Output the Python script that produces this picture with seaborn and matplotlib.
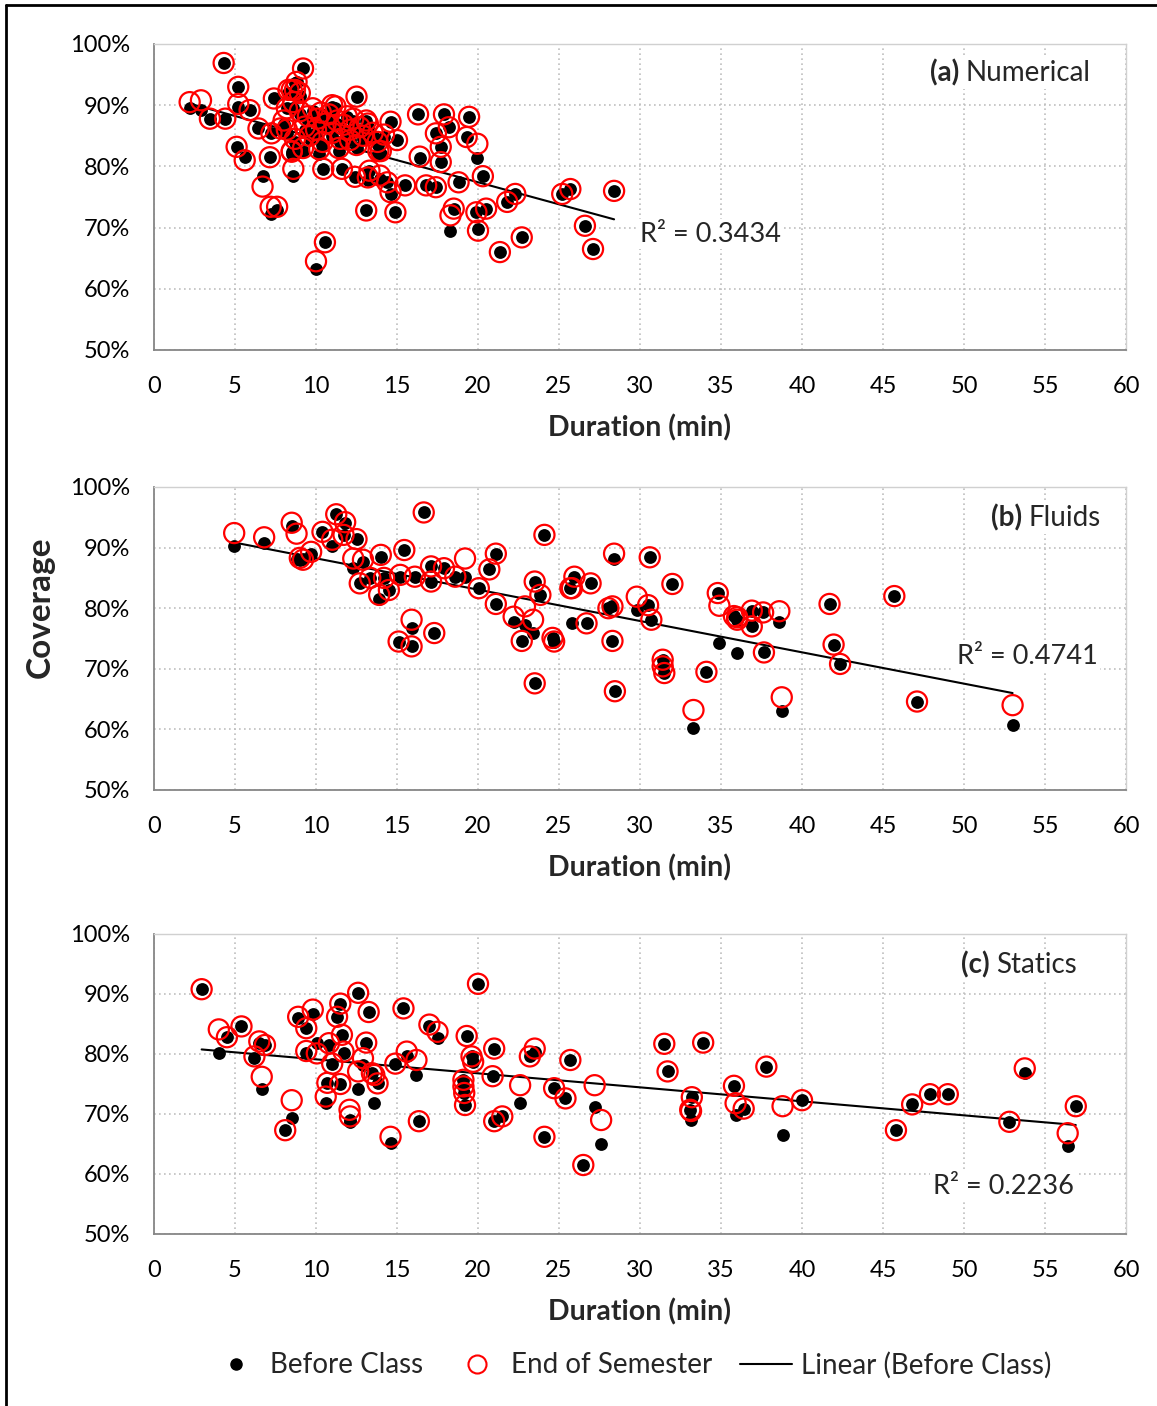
import numpy as np
import pandas as pd
import matplotlib
matplotlib.use("Agg")
import matplotlib.pyplot as plt
import seaborn as sns
from matplotlib.lines import Line2D

# ---------------- data (Duration in min, Coverage in %) ----------------
num_dur = [2.2, 2.9, 3.45, 4.3, 4.4, 5.2, 5.2, 5.9, 5.1, 5.6, 6.45, 6.7, 7.15, 7.25, 7.4,
           7.2, 7.6, 8.2, 8.5, 8.6, 7.8, 8.8, 9.2, 8.7, 8.3, 10.0, 10.55, 10.45, 11.6, 12.5,
           13.1, 14.6, 15.0, 13.85, 12.4, 13.2, 13.95, 14.4, 14.6, 15.5, 13.1, 14.9, 16.3,
           17.9, 19.45, 18.2, 17.4, 17.7, 19.3, 19.96, 20.3, 16.4, 17.7, 16.8, 17.4, 18.8,
           18.5, 18.3, 19.9, 20.5, 20.0, 21.8, 22.3, 21.35, 22.7, 25.2, 25.7, 26.6, 27.1, 28.4,
           9.0, 9.3, 9.5, 9.6, 9.8, 10.0, 10.1, 10.3, 10.4, 10.6, 10.8, 11.0, 11.2, 11.3, 11.5,
           11.7, 11.9, 12.1, 12.3, 12.5, 12.7, 12.9, 13.2, 13.5, 13.8, 9.2, 10.2, 11.4, 8.7,
           8.5, 8.2, 8.0, 8.6, 9.0, 8.5, 11.0, 14.2, 14.0, 13.3, 12.1]
num_before = [89.5, 89.2, 87.8, 96.9, 87.8, 93.0, 89.7, 89.2, 83.2, 81.5, 86.2, 78.5, 81.5, 85.4, 91.1,
              72.2, 72.8, 89.5, 82.4, 78.5, 85.9, 93.8, 96.0, 93.6, 92.0, 63.2, 67.6, 79.6, 79.6, 91.4,
              87.5, 87.3, 84.3, 82.1, 78.3, 77.7, 78.0, 77.4, 75.5, 76.9, 72.8, 72.5, 88.5,
              88.5, 88.1, 86.4, 85.4, 83.2, 84.8, 81.3, 78.4, 81.3, 80.7, 76.9, 76.6, 77.4,
              73.1, 69.5, 72.5, 73.1, 69.8, 74.2, 75.5, 66.0, 68.4, 75.5, 76.3, 70.3, 66.5, 76.0,
              88.5, 86.0, 87.5, 84.5, 89.0, 85.5, 87.0, 88.5, 83.5, 86.5, 88.0, 85.0, 89.5, 87.0, 84.0,
              86.0, 88.0, 85.5, 87.5, 83.0, 86.0, 84.5, 86.5, 85.0, 83.5, 82.5, 82.0, 82.5, 84.0,
              82.0, 85.5, 87.0, 89.5, 91.5, 92.0, 89.7, 84.8, 82.0, 79.3, 84.3]
num_end = [90.5, 90.8, 87.8, 96.9, 87.8, 93.0, 90.2, 89.2, 83.2, 81.0, 86.2, 76.7, 81.5, 85.4, 91.1,
           73.4, 73.4, 89.5, 82.4, 79.6, 86.2, 93.8, 96.0, 92.5, 92.5, 64.5, 67.6, 79.6, 79.6, 91.4,
           87.5, 87.3, 84.3, 82.5, 78.3, 78.2, 78.5, 77.4, 75.8, 76.9, 72.8, 72.5, 88.5,
           88.5, 88.1, 86.4, 85.4, 83.2, 84.8, 83.7, 78.4, 81.6, 80.7, 76.9, 76.6, 77.4,
           73.1, 72.0, 72.5, 73.1, 69.5, 74.2, 75.5, 66.0, 68.4, 75.5, 76.3, 70.3, 66.5, 76.0,
           89.0, 86.5, 88.2, 85.0, 89.5, 86.0, 87.8, 88.8, 84.0, 87.0, 88.5, 85.5, 89.8, 87.5, 84.5,
           86.8, 88.2, 86.0, 87.8, 83.5, 86.4, 85.0, 87.0, 85.5, 84.0, 83.0, 82.8, 83.0, 84.5,
           82.5, 86.0, 87.5, 90.5, 92.0, 92.5, 90.0, 85.2, 82.5, 79.3, 84.3]

flu_dur = [4.95, 6.8, 8.5, 8.8, 9.0, 9.2, 9.7, 10.4, 11.0, 11.25, 11.8, 11.7, 12.5, 12.3, 12.9,
           12.7, 13.35, 14.0, 13.9, 14.5, 14.2, 15.45, 15.2, 15.9, 15.1, 15.9, 16.1, 16.65, 17.1,
           17.1, 17.3, 17.9, 18.6, 19.2, 20.05, 20.7, 21.1, 21.1, 24.1, 22.2, 22.9, 23.4, 23.5,
           23.85, 22.7, 23.5, 24.6, 24.7, 25.7, 25.95, 25.8, 26.7, 26.95, 28.4, 28.05, 28.3, 28.3,
           28.45, 29.8, 30.6, 30.5, 30.7, 31.4, 31.4, 31.5, 32.0, 33.3, 34.1, 34.8, 34.9, 35.8,
           36.0, 36.0, 36.9, 36.9, 37.6, 37.65, 38.6, 38.75, 41.7, 41.95, 42.35, 45.7, 47.1, 53.0]
flu_before = [90.3, 90.8, 93.5, 88.2, 88.0, 88.1, 89.0, 92.6, 90.2, 95.5, 94.0, 92.1, 91.4, 86.6, 87.7,
              84.1, 85.0, 88.5, 81.6, 83.0, 85.0, 89.6, 85.2, 76.7, 74.5, 73.7, 85.2, 95.8, 86.9,
              84.4, 75.9, 86.6, 85.2, 85.2, 83.3, 86.4, 89.0, 80.7, 92.1, 77.8, 77.3, 75.9, 84.4,
              82.2, 74.6, 67.6, 75.1, 74.5, 83.3, 85.2, 77.5, 77.5, 84.1, 88.2, 80.0, 80.3, 74.6,
              66.3, 79.7, 88.4, 80.5, 78.1, 71.5, 70.4, 69.3, 84.0, 60.2, 69.5, 82.5, 74.2, 78.7,
              78.1, 72.6, 79.6, 77.0, 79.3, 72.7, 77.8, 63.0, 80.7, 74.0, 70.8, 82.0, 64.6, 60.8]
flu_end = [92.4, 91.7, 94.1, 92.3, 88.3, 88.0, 89.3, 92.6, 91.3, 95.5, 94.2, 92.1, 91.4, 88.2, 88.0,
           84.1, 85.0, 88.8, 82.2, 83.0, 85.0, 89.6, 85.5, 78.1, 74.5, 73.7, 85.2, 95.8, 86.9,
           84.4, 75.9, 86.6, 85.2, 88.2, 83.3, 86.4, 89.0, 80.7, 92.1, 78.6, 80.3, 78.1, 84.4,
           82.2, 74.6, 67.6, 75.1, 74.5, 83.3, 85.2, 83.3, 77.5, 84.1, 89.0, 80.0, 80.3, 74.6,
           66.3, 81.9, 88.4, 80.5, 78.1, 71.5, 70.4, 69.3, 84.0, 63.2, 69.5, 82.5, 80.4, 78.7,
           78.1, 78.5, 79.6, 77.0, 79.3, 72.7, 79.5, 65.3, 80.7, 74.0, 70.8, 82.0, 64.6, 64.0]

sta_dur = [2.94, 4.0, 4.5, 5.4, 6.2, 6.65, 6.5, 6.85, 8.1, 8.5, 8.9, 9.4, 9.8, 9.4, 10.05,
           10.6, 10.7, 11.3, 11.5, 11.6, 10.8, 11.0, 11.7, 11.5, 12.07, 12.1, 12.6, 12.6, 13.25,
           13.1, 12.9, 13.45, 13.8, 13.6, 14.6, 14.9, 15.6, 16.2, 15.4, 16.35, 17.0, 17.5, 19.3,
           19.1, 19.1, 19.15, 19.2, 19.6, 19.7, 20.0, 20.9, 21.0, 21.0, 21.5, 22.6, 23.5, 23.2,
           24.1, 24.7, 25.4, 25.7, 26.5, 27.2, 27.6, 31.5, 31.7, 33.2, 33.1, 33.15, 33.9, 35.8,
           35.9, 36.4, 37.8, 38.8, 40.0, 45.8, 46.8, 47.9, 49.0, 52.8, 53.75, 56.4, 56.9]
sta_before = [90.8, 80.1, 82.8, 84.6, 79.4, 74.1, 81.9, 81.5, 67.3, 69.4, 86.0, 84.3, 86.7, 80.2, 81.8,
              71.9, 75.2, 86.2, 88.4, 83.2, 81.5, 78.4, 80.1, 75.0, 68.7, 69.0, 90.2, 74.1, 87.0,
              81.9, 78.2, 76.8, 75.1, 71.8, 65.1, 78.4, 79.6, 76.5, 87.6, 68.8, 84.7, 82.6, 83.0,
              75.7, 74.6, 73.5, 71.5, 79.6, 78.7, 91.7, 76.3, 80.9, 68.8, 69.6, 71.8, 80.4, 79.6,
              66.2, 74.3, 72.6, 79.0, 61.5, 71.2, 65.0, 81.7, 77.1, 72.8, 70.7, 69.0, 81.9, 74.7,
              69.8, 70.9, 77.9, 66.5, 72.3, 67.3, 71.6, 73.3, 73.3, 68.7, 76.8, 64.7, 71.3]
sta_end = [90.8, 84.1, 82.8, 84.6, 79.6, 76.2, 82.1, 81.5, 67.3, 72.3, 86.2, 84.3, 87.4, 80.5, 80.1,
           72.9, 75.2, 86.2, 88.4, 83.2, 81.8, 78.4, 80.4, 75.0, 70.7, 69.6, 90.2, 77.1, 87.0,
           81.9, 79.3, 76.8, 75.1, 76.5, 66.2, 78.4, 80.4, 79.0, 87.6, 68.8, 84.9, 83.7, 83.0,
           75.7, 74.6, 73.5, 71.5, 79.6, 78.7, 91.7, 76.3, 80.9, 68.8, 69.6, 74.8, 80.9, 79.6,
           66.2, 74.3, 72.6, 79.0, 61.5, 74.8, 69.0, 81.7, 77.1, 72.8, 70.7, 70.5, 81.9, 74.7,
           71.8, 70.9, 77.9, 71.3, 72.3, 67.3, 71.6, 73.3, 73.3, 68.7, 77.6, 66.8, 71.3]

panel_tags = ["(a)", "(b)", "(c)"]
panel_names = ["Numerical", "Fluids", "Statics"]
r2_labels = ["R² = 0.3434", "R² = 0.4741", "R² = 0.2236"]
x_ticks = list(range(0, 61, 5))
y_ticks = [50, 60, 70, 80, 90, 100]
legend_labels = ["Before Class", "End of Semester", "Linear (Before Class)"]

# ---------------- styling ----------------
sns.set_theme(style="white")
plt.rcParams["font.family"] = ["Lato", "DejaVu Sans"]

W, H = 1157, 1406
fig = plt.figure(figsize=(W / 100, H / 100), dpi=100)

def frac_box(left, right, top, bottom):
    return [left / W, 1 - bottom / H, (right - left) / W, (bottom - top) / H]

positions = [frac_box(154, 1126, 44, 350), frac_box(154, 1126, 487, 790), frac_box(154, 1126, 934, 1234)]
label_pos = [(0.963, 0.905), (0.974, 0.898), (0.949, 0.897)]
r2_pos = [(0.500, 0.379), (0.826, 0.439), (0.801, 0.157)]

datasets = [(num_dur, num_before, num_end), (flu_dur, flu_before, flu_end), (sta_dur, sta_before, sta_end)]

for i, (pos, (d, b, e)) in enumerate(zip(positions, datasets)):
    ax = fig.add_axes(pos)
    df = pd.DataFrame({"dur": d, "before": b, "end": e})
    sns.regplot(data=df, x="dur", y="before", scatter=False, ci=None, color="black",
                line_kws={"lw": 1.5, "zorder": 2}, ax=ax)
    sns.scatterplot(data=df, x="dur", y="before", color="black", s=85, linewidth=0, ax=ax, zorder=3)
    sns.scatterplot(data=df, x="dur", y="end", facecolor="none", edgecolor="#FF0000", s=210,
                    linewidth=1.6, ax=ax, zorder=4)
    ax.set_xlim(0, 60)
    ax.set_ylim(50, 100)
    ax.set_xticks(x_ticks)
    ax.set_yticks(y_ticks)
    ax.set_yticklabels([f"{v}%" for v in y_ticks])
    ax.set_xticklabels([str(v) for v in x_ticks])
    ax.grid(True, linestyle=(0, (1, 2)), color="#BFBFBF", lw=1.2, zorder=0)
    ax.set_axisbelow(True)
    for side in ["left", "bottom"]:
        ax.spines[side].set_color("#868686")
        ax.spines[side].set_linewidth(1.3)
    for side in ["top", "right"]:
        ax.spines[side].set_color("#D0D0D0")
        ax.spines[side].set_linewidth(1.0)
    ax.tick_params(axis="both", which="major", direction="out", length=5, width=1.3,
                   color="#868686", labelsize=17, labelcolor="black")
    ax.tick_params(axis="x", pad=14)
    ax.tick_params(axis="y", pad=12)
    ax.set_xlabel("Duration (min)", fontsize=20.5, fontweight="bold", labelpad=12)
    ax.set_ylabel("")
    # panel label: bold tag + regular name
    lx, ly = label_pos[i]
    t_name = ax.text(lx, ly, panel_names[i], transform=ax.transAxes, ha="right", va="center",
                     fontsize=20, zorder=6,
                     bbox=dict(facecolor="white", edgecolor="none", pad=2))
    fig.canvas.draw()
    bb = t_name.get_window_extent(renderer=fig.canvas.get_renderer())
    inv = ax.transAxes.inverted()
    left_ax = inv.transform((bb.x0 - 6, bb.y0))[0]
    ax.text(left_ax, ly, panel_tags[i], transform=ax.transAxes, ha="right", va="center",
            fontsize=20, fontweight="bold", zorder=6,
            bbox=dict(facecolor="white", edgecolor="none", pad=2))
    rx, ry = r2_pos[i]
    ax.text(rx, ry, r2_labels[i], transform=ax.transAxes, ha="left", va="center",
            fontsize=19.5, zorder=6, bbox=dict(facecolor="white", edgecolor="none", pad=2))

fig.text(40 / W, 1 - 607 / H, "Coverage", rotation=90, ha="center", va="center",
         fontsize=24, fontweight="bold")

handles = [
    Line2D([], [], linestyle="none", marker="o", markersize=8, markerfacecolor="black",
           markeredgecolor="black"),
    Line2D([], [], linestyle="none", marker="o", markersize=13, markerfacecolor="none",
           markeredgecolor="#FF0000", markeredgewidth=1.5),
    Line2D([], [], color="black", lw=1.5),
]
fig.legend(handles, legend_labels, loc="center", bbox_to_anchor=(0.545, 1 - 1365 / H), ncol=3,
           frameon=False, fontsize=20, handlelength=1.87, handletextpad=0.3, columnspacing=1.0)

# outer frame (top and left edges visible)
fig.add_artist(Line2D([6 / W, 6 / W], [0, 1 - 5 / H], transform=fig.transFigure, color="black", lw=2))
fig.add_artist(Line2D([6 / W, 1], [1 - 5 / H, 1 - 5 / H], transform=fig.transFigure, color="black", lw=2))

fig.savefig("out.png", dpi=100)
